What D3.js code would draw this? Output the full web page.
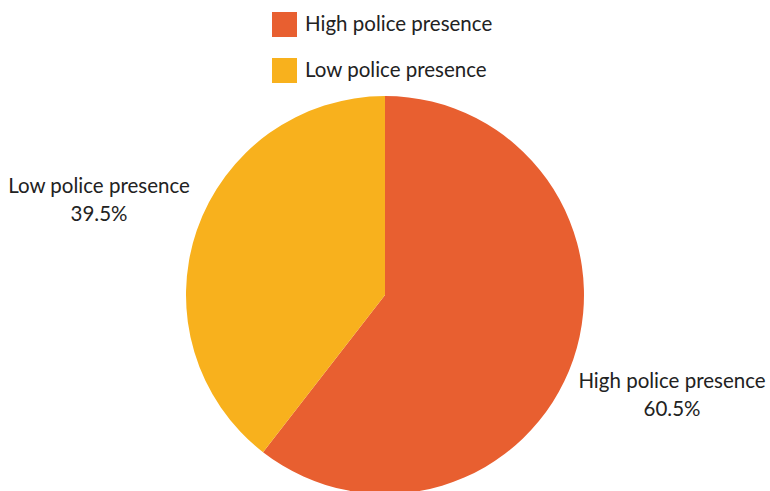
<!DOCTYPE html>
<html><head><meta charset="utf-8">
<script src="https://cdn.jsdelivr.net/npm/d3@7"></script>
<style>body{margin:0;background:#fff;}svg{display:block;font-family:Lato, sans-serif;}</style>
</head><body>
<svg id="c" width="770" height="491"></svg>
<script>
const categories = ["High police presence", "Low police presence"];
const values = [60.5, 39.5];
const colors = ["#E85F30", "#F8B11D"];

const svg = d3.select("#c");
const cx = 385, cy = 295, r = 199;
const pie = d3.pie().sort(null).value(d => d.v);
const data = categories.map((c, i) => ({c, v: values[i], col: colors[i]}));
const arcs = pie(data);
const arc = d3.arc().innerRadius(0).outerRadius(r);
const g = svg.append("g").attr("transform", `translate(${cx},${cy})`);
g.selectAll("path").data(arcs).join("path").attr("d", arc).attr("fill", d => d.data.col);

// labels
const labelPos = [[672, 388], [99, 193]];
arcs.forEach((a, i) => {
  const t = svg.append("text").attr("text-anchor", "middle").attr("fill", "#222").style("font-size", "20.5px");
  t.append("tspan").attr("x", labelPos[i][0]).attr("y", labelPos[i][1]).text(a.data.c);
  t.append("tspan").attr("x", labelPos[i][0]).attr("y", labelPos[i][1] + 28).text(d3.format(".1f")(a.data.v) + "%");
});

// legend
const lg = svg.append("g").attr("transform", "translate(272,12)");
const item = lg.selectAll("g").data(data).join("g").attr("transform", (d, i) => `translate(0,${i * 46})`);
item.append("rect").attr("width", 25).attr("height", 25).attr("fill", d => d.col);
item.append("text").attr("x", 33).attr("y", 19).attr("fill", "#222").style("font-size", "20.5px").text(d => d.c);
</script>
</body></html>
